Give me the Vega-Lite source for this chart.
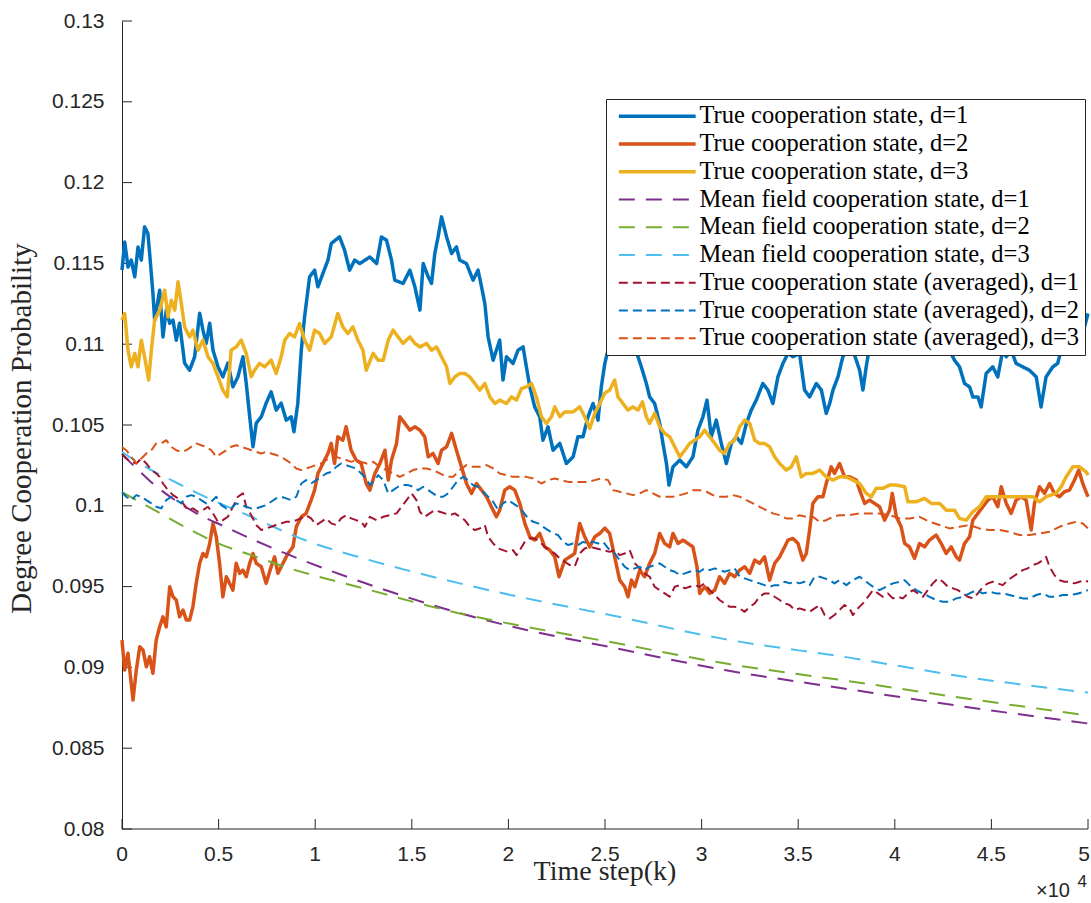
{
  "$schema": "https://vega.github.io/schema/vega-lite/v6.json",
  "width": 966,
  "height": 808,
  "autosize": {"type": "none"},
  "padding": {"left": 122, "top": 21, "right": 3, "bottom": 74},
  "background": "white",
  "config": {
    "view": {"stroke": null},
    "axis": {
      "grid": false,
      "ticks": false,
      "domainColor": "#262626",
      "domainWidth": 1,
      "labelFont": "Liberation Sans",
      "labelFontSize": 21,
      "labelColor": "#262626",
      "titleFont": "Liberation Serif",
      "titleFontWeight": "normal",
      "titleColor": "#262626",
      "zindex": 1
    },
    "legend": {
      "orient": "none",
      "legendX": 484,
      "legendY": 78,
      "padding": 5,
      "rowPadding": 2.75,
      "fillColor": "white",
      "strokeColor": "#262626",
      "labelFont": "Liberation Serif",
      "labelFontSize": 24.5,
      "labelColor": "#000000",
      "labelLimit": 600,
      "labelOffset": 30,
      "symbolOffset": 34,
      "symbolType": "stroke",
      "symbolSize": 5900
    }
  },
  "datasets": {
    "names": [
      {"s": "t1", "label": "True cooperation state, d=1"},
      {"s": "t2", "label": "True cooperation state, d=2"},
      {"s": "t3", "label": "True cooperation state, d=3"},
      {"s": "m1", "label": "Mean field cooperation state, d=1"},
      {"s": "m2", "label": "Mean field cooperation state, d=2"},
      {"s": "m3", "label": "Mean field cooperation state, d=3"},
      {"s": "a1", "label": "True cooperation state (averaged), d=1"},
      {"s": "a2", "label": "True cooperation state (averaged), d=2"},
      {"s": "a3", "label": "True cooperation state (averaged), d=3"}
    ],
    "xticks": [{"k": 0, "t": "0"}, {"k": 5000, "t": "0.5"}, {"k": 10000, "t": "1"}, {"k": 15000, "t": "1.5"}, {"k": 20000, "t": "2"}, {"k": 25000, "t": "2.5"}, {"k": 30000, "t": "3"}, {"k": 35000, "t": "3.5"}, {"k": 40000, "t": "4"}, {"k": 45000, "t": "4.5"}, {"k": 50000, "t": "5"}],
    "yticks": [{"v": 0.08}, {"v": 0.085}, {"v": 0.09}, {"v": 0.095}, {"v": 0.1}, {"v": 0.105}, {"v": 0.11}, {"v": 0.115}, {"v": 0.12}, {"v": 0.125}, {"v": 0.13}],
    "traces": [
{"s":"t1","k":0,"v":0.11458},{"s":"t1","k":140,"v":0.11633},{"s":"t1","k":310,"v":0.11478},{"s":"t1","k":480,"v":0.1152},{"s":"t1","k":660,"v":0.11417},{"s":"t1","k":830,"v":0.11602},{"s":"t1","k":1000,"v":0.1152},{"s":"t1","k":1170,"v":0.11726},{"s":"t1","k":1340,"v":0.11685},{"s":"t1","k":1430,"v":0.11563},{"s":"t1","k":1600,"v":0.11316},{"s":"t1","k":1690,"v":0.11149},{"s":"t1","k":1950,"v":0.11334},{"s":"t1","k":2120,"v":0.11045},{"s":"t1","k":2290,"v":0.11211},{"s":"t1","k":2470,"v":0.1113},{"s":"t1","k":2640,"v":0.11149},{"s":"t1","k":2810,"v":0.11025},{"s":"t1","k":2980,"v":0.1113},{"s":"t1","k":3240,"v":0.10883},{"s":"t1","k":3500,"v":0.10839},{"s":"t1","k":3760,"v":0.10922},{"s":"t1","k":4020,"v":0.11192},{"s":"t1","k":4190,"v":0.11087},{"s":"t1","k":4360,"v":0.11006},{"s":"t1","k":4540,"v":0.1113},{"s":"t1","k":4710,"v":0.10963},{"s":"t1","k":4970,"v":0.1086},{"s":"t1","k":5220,"v":0.10798},{"s":"t1","k":5480,"v":0.10883},{"s":"t1","k":5740,"v":0.10736},{"s":"t1","k":6000,"v":0.10798},{"s":"t1","k":6260,"v":0.10922},{"s":"t1","k":6430,"v":0.10759},{"s":"t1","k":6610,"v":0.10551},{"s":"t1","k":6780,"v":0.10365},{"s":"t1","k":6950,"v":0.10512},{"s":"t1","k":7210,"v":0.10551},{"s":"t1","k":7460,"v":0.10635},{"s":"t1","k":7720,"v":0.10705},{"s":"t1","k":7980,"v":0.10592},{"s":"t1","k":8240,"v":0.10635},{"s":"t1","k":8500,"v":0.1053},{"s":"t1","k":8760,"v":0.10551},{"s":"t1","k":8900,"v":0.10458},{"s":"t1","k":9100,"v":0.10635},{"s":"t1","k":9280,"v":0.10963},{"s":"t1","k":9450,"v":0.11169},{"s":"t1","k":9710,"v":0.11417},{"s":"t1","k":9970,"v":0.11458},{"s":"t1","k":10140,"v":0.11355},{"s":"t1","k":10400,"v":0.11438},{"s":"t1","k":10660,"v":0.1152},{"s":"t1","k":10830,"v":0.11623},{"s":"t1","k":11260,"v":0.11664},{"s":"t1","k":11520,"v":0.11582},{"s":"t1","k":11780,"v":0.11458},{"s":"t1","k":12040,"v":0.1152},{"s":"t1","k":12310,"v":0.11499},{"s":"t1","k":12830,"v":0.1154},{"s":"t1","k":13180,"v":0.11499},{"s":"t1","k":13430,"v":0.11664},{"s":"t1","k":13690,"v":0.11644},{"s":"t1","k":13950,"v":0.1152},{"s":"t1","k":14120,"v":0.11396},{"s":"t1","k":14550,"v":0.11376},{"s":"t1","k":14900,"v":0.11458},{"s":"t1","k":15160,"v":0.11355},{"s":"t1","k":15420,"v":0.11211},{"s":"t1","k":15590,"v":0.11499},{"s":"t1","k":15850,"v":0.11417},{"s":"t1","k":16020,"v":0.11376},{"s":"t1","k":16190,"v":0.11561},{"s":"t1","k":16360,"v":0.11664},{"s":"t1","k":16540,"v":0.11788},{"s":"t1","k":16800,"v":0.11664},{"s":"t1","k":17060,"v":0.11561},{"s":"t1","k":17310,"v":0.11602},{"s":"t1","k":17480,"v":0.1152},{"s":"t1","k":17830,"v":0.11499},{"s":"t1","k":18170,"v":0.11396},{"s":"t1","k":18430,"v":0.11458},{"s":"t1","k":18610,"v":0.11355},{"s":"t1","k":18780,"v":0.11252},{"s":"t1","k":18950,"v":0.11045},{"s":"t1","k":19210,"v":0.10901},{"s":"t1","k":19550,"v":0.11025},{"s":"t1","k":19720,"v":0.10778},{"s":"t1","k":19900,"v":0.10922},{"s":"t1","k":20240,"v":0.10881},{"s":"t1","k":20500,"v":0.10963},{"s":"t1","k":20760,"v":0.10983},{"s":"t1","k":20930,"v":0.1086},{"s":"t1","k":21110,"v":0.10736},{"s":"t1","k":21360,"v":0.10612},{"s":"t1","k":21620,"v":0.10551},{"s":"t1","k":21790,"v":0.10406},{"s":"t1","k":22050,"v":0.10489},{"s":"t1","k":22310,"v":0.10344},{"s":"t1","k":22660,"v":0.10386},{"s":"t1","k":23000,"v":0.10262},{"s":"t1","k":23350,"v":0.10303},{"s":"t1","k":23600,"v":0.10427},{"s":"t1","k":23860,"v":0.10427},{"s":"t1","k":24120,"v":0.10551},{"s":"t1","k":24380,"v":0.10633},{"s":"t1","k":24640,"v":0.1053},{"s":"t1","k":24810,"v":0.10736},{"s":"t1","k":24990,"v":0.10881},{"s":"t1","k":25240,"v":0.11005},{"s":"t1","k":25760,"v":0.11118},{"s":"t1","k":26450,"v":0.11005},{"s":"t1","k":26710,"v":0.10922},{"s":"t1","k":26880,"v":0.1086},{"s":"t1","k":27140,"v":0.10757},{"s":"t1","k":27310,"v":0.10674},{"s":"t1","k":27570,"v":0.10633},{"s":"t1","k":27830,"v":0.1051},{"s":"t1","k":28000,"v":0.10386},{"s":"t1","k":28180,"v":0.10262},{"s":"t1","k":28310,"v":0.10128},{"s":"t1","k":28520,"v":0.10241},{"s":"t1","k":28870,"v":0.10283},{"s":"t1","k":29210,"v":0.10241},{"s":"t1","k":29550,"v":0.10303},{"s":"t1","k":29810,"v":0.10468},{"s":"t1","k":30070,"v":0.10551},{"s":"t1","k":30280,"v":0.10654},{"s":"t1","k":30500,"v":0.10427},{"s":"t1","k":30760,"v":0.1053},{"s":"t1","k":31020,"v":0.10386},{"s":"t1","k":31280,"v":0.10262},{"s":"t1","k":31540,"v":0.10386},{"s":"t1","k":31800,"v":0.10427},{"s":"t1","k":32060,"v":0.10386},{"s":"t1","k":32320,"v":0.1051},{"s":"t1","k":32570,"v":0.10592},{"s":"t1","k":32830,"v":0.10654},{"s":"t1","k":33170,"v":0.10757},{"s":"t1","k":33430,"v":0.10716},{"s":"t1","k":33690,"v":0.10633},{"s":"t1","k":33950,"v":0.10798},{"s":"t1","k":34210,"v":0.10881},{"s":"t1","k":34470,"v":0.10943},{"s":"t1","k":34730,"v":0.10922},{"s":"t1","k":35070,"v":0.10943},{"s":"t1","k":35330,"v":0.10716},{"s":"t1","k":35590,"v":0.10674},{"s":"t1","k":35940,"v":0.10757},{"s":"t1","k":36200,"v":0.10716},{"s":"t1","k":36450,"v":0.10572},{"s":"t1","k":36630,"v":0.10633},{"s":"t1","k":36800,"v":0.10716},{"s":"t1","k":37060,"v":0.10798},{"s":"t1","k":37310,"v":0.10922},{"s":"t1","k":37570,"v":0.10963},{"s":"t1","k":37830,"v":0.10963},{"s":"t1","k":38180,"v":0.10839},{"s":"t1","k":38350,"v":0.10716},{"s":"t1","k":38520,"v":0.1086},{"s":"t1","k":38690,"v":0.10983},{"s":"t1","k":39730,"v":0.11087},{"s":"t1","k":40760,"v":0.11149},{"s":"t1","k":41800,"v":0.11087},{"s":"t1","k":42830,"v":0.10963},{"s":"t1","k":43090,"v":0.10901},{"s":"t1","k":43350,"v":0.1086},{"s":"t1","k":43610,"v":0.10757},{"s":"t1","k":43870,"v":0.10736},{"s":"t1","k":44040,"v":0.10674},{"s":"t1","k":44300,"v":0.10674},{"s":"t1","k":44470,"v":0.10612},{"s":"t1","k":44730,"v":0.10819},{"s":"t1","k":45070,"v":0.1086},{"s":"t1","k":45330,"v":0.10798},{"s":"t1","k":45590,"v":0.10963},{"s":"t1","k":45770,"v":0.10922},{"s":"t1","k":46020,"v":0.10963},{"s":"t1","k":46280,"v":0.10881},{"s":"t1","k":46620,"v":0.1086},{"s":"t1","k":46970,"v":0.10839},{"s":"t1","k":47320,"v":0.10798},{"s":"t1","k":47570,"v":0.10612},{"s":"t1","k":47830,"v":0.10798},{"s":"t1","k":48180,"v":0.1086},{"s":"t1","k":48430,"v":0.10881},{"s":"t1","k":48610,"v":0.10963},{"s":"t1","k":48870,"v":0.11087},{"s":"t1","k":49210,"v":0.11231},{"s":"t1","k":49470,"v":0.11314},{"s":"t1","k":49640,"v":0.11211},{"s":"t1","k":49820,"v":0.11107},{"s":"t1","k":50000,"v":0.1119},
{"s":"t2","k":0,"v":0.09169},{"s":"t2","k":140,"v":0.08984},{"s":"t2","k":310,"v":0.09087},{"s":"t2","k":570,"v":0.08798},{"s":"t2","k":740,"v":0.08984},{"s":"t2","k":920,"v":0.09128},{"s":"t2","k":1090,"v":0.09107},{"s":"t2","k":1260,"v":0.09004},{"s":"t2","k":1430,"v":0.09066},{"s":"t2","k":1600,"v":0.08963},{"s":"t2","k":1770,"v":0.09169},{"s":"t2","k":1950,"v":0.09251},{"s":"t2","k":2120,"v":0.09313},{"s":"t2","k":2290,"v":0.09251},{"s":"t2","k":2470,"v":0.09499},{"s":"t2","k":2640,"v":0.09437},{"s":"t2","k":2810,"v":0.09417},{"s":"t2","k":2980,"v":0.09313},{"s":"t2","k":3160,"v":0.09355},{"s":"t2","k":3330,"v":0.09293},{"s":"t2","k":3500,"v":0.09293},{"s":"t2","k":3670,"v":0.09375},{"s":"t2","k":3840,"v":0.0952},{"s":"t2","k":4020,"v":0.09644},{"s":"t2","k":4190,"v":0.09705},{"s":"t2","k":4360,"v":0.09684},{"s":"t2","k":4540,"v":0.09767},{"s":"t2","k":4710,"v":0.09891},{"s":"t2","k":4880,"v":0.09808},{"s":"t2","k":5050,"v":0.09644},{"s":"t2","k":5220,"v":0.09437},{"s":"t2","k":5400,"v":0.09561},{"s":"t2","k":5570,"v":0.0952},{"s":"t2","k":5740,"v":0.09478},{"s":"t2","k":5910,"v":0.09644},{"s":"t2","k":6090,"v":0.09582},{"s":"t2","k":6260,"v":0.09602},{"s":"t2","k":6430,"v":0.09561},{"s":"t2","k":6610,"v":0.09644},{"s":"t2","k":6780,"v":0.09705},{"s":"t2","k":6950,"v":0.09644},{"s":"t2","k":7210,"v":0.09623},{"s":"t2","k":7460,"v":0.0952},{"s":"t2","k":7720,"v":0.09623},{"s":"t2","k":7900,"v":0.09684},{"s":"t2","k":8070,"v":0.09582},{"s":"t2","k":8330,"v":0.09644},{"s":"t2","k":8590,"v":0.09705},{"s":"t2","k":8850,"v":0.09746},{"s":"t2","k":9020,"v":0.0987},{"s":"t2","k":9280,"v":0.09932},{"s":"t2","k":9530,"v":0.09953},{"s":"t2","k":9790,"v":0.10035},{"s":"t2","k":9970,"v":0.10097},{"s":"t2","k":10140,"v":0.102},{"s":"t2","k":10400,"v":0.10262},{"s":"t2","k":10660,"v":0.10324},{"s":"t2","k":10830,"v":0.10386},{"s":"t2","k":11000,"v":0.10262},{"s":"t2","k":11170,"v":0.10427},{"s":"t2","k":11430,"v":0.10406},{"s":"t2","k":11600,"v":0.10489},{"s":"t2","k":11860,"v":0.10344},{"s":"t2","k":12120,"v":0.10283},{"s":"t2","k":12380,"v":0.10262},{"s":"t2","k":12640,"v":0.10138},{"s":"t2","k":12830,"v":0.10097},{"s":"t2","k":13090,"v":0.102},{"s":"t2","k":13350,"v":0.10262},{"s":"t2","k":13610,"v":0.10344},{"s":"t2","k":13780,"v":0.10159},{"s":"t2","k":13950,"v":0.10283},{"s":"t2","k":14210,"v":0.10386},{"s":"t2","k":14380,"v":0.10551},{"s":"t2","k":14640,"v":0.1051},{"s":"t2","k":14900,"v":0.10468},{"s":"t2","k":15160,"v":0.10489},{"s":"t2","k":15420,"v":0.10468},{"s":"t2","k":15670,"v":0.10427},{"s":"t2","k":15850,"v":0.10303},{"s":"t2","k":16100,"v":0.10324},{"s":"t2","k":16360,"v":0.10262},{"s":"t2","k":16540,"v":0.10344},{"s":"t2","k":16800,"v":0.10365},{"s":"t2","k":17060,"v":0.10448},{"s":"t2","k":17310,"v":0.10344},{"s":"t2","k":17570,"v":0.10241},{"s":"t2","k":17830,"v":0.10138},{"s":"t2","k":18090,"v":0.10077},{"s":"t2","k":18350,"v":0.10138},{"s":"t2","k":18610,"v":0.10097},{"s":"t2","k":18870,"v":0.10056},{"s":"t2","k":19120,"v":0.09994},{"s":"t2","k":19380,"v":0.09932},{"s":"t2","k":19550,"v":0.09973},{"s":"t2","k":19810,"v":0.10097},{"s":"t2","k":20070,"v":0.10118},{"s":"t2","k":20330,"v":0.10097},{"s":"t2","k":20590,"v":0.10015},{"s":"t2","k":20850,"v":0.09891},{"s":"t2","k":21110,"v":0.09808},{"s":"t2","k":21360,"v":0.09788},{"s":"t2","k":21620,"v":0.09829},{"s":"t2","k":21880,"v":0.09746},{"s":"t2","k":22140,"v":0.09726},{"s":"t2","k":22400,"v":0.09684},{"s":"t2","k":22620,"v":0.09561},{"s":"t2","k":22920,"v":0.09664},{"s":"t2","k":23180,"v":0.09684},{"s":"t2","k":23430,"v":0.09705},{"s":"t2","k":23690,"v":0.09891},{"s":"t2","k":23950,"v":0.09808},{"s":"t2","k":24210,"v":0.09746},{"s":"t2","k":24470,"v":0.09808},{"s":"t2","k":24730,"v":0.09829},{"s":"t2","k":24990,"v":0.09862},{"s":"t2","k":25240,"v":0.09829},{"s":"t2","k":25500,"v":0.09684},{"s":"t2","k":25760,"v":0.0954},{"s":"t2","k":26020,"v":0.09499},{"s":"t2","k":26190,"v":0.09437},{"s":"t2","k":26370,"v":0.0954},{"s":"t2","k":26540,"v":0.09499},{"s":"t2","k":26800,"v":0.09602},{"s":"t2","k":27050,"v":0.09561},{"s":"t2","k":27310,"v":0.09644},{"s":"t2","k":27570,"v":0.09705},{"s":"t2","k":27830,"v":0.09829},{"s":"t2","k":28090,"v":0.09767},{"s":"t2","k":28350,"v":0.09746},{"s":"t2","k":28520,"v":0.09829},{"s":"t2","k":28780,"v":0.09767},{"s":"t2","k":29040,"v":0.09788},{"s":"t2","k":29290,"v":0.09767},{"s":"t2","k":29550,"v":0.09746},{"s":"t2","k":29760,"v":0.09623},{"s":"t2","k":29900,"v":0.09458},{"s":"t2","k":30160,"v":0.09499},{"s":"t2","k":30420,"v":0.09458},{"s":"t2","k":30680,"v":0.09478},{"s":"t2","k":30930,"v":0.09561},{"s":"t2","k":31190,"v":0.0952},{"s":"t2","k":31450,"v":0.09582},{"s":"t2","k":31710,"v":0.09561},{"s":"t2","k":31970,"v":0.09602},{"s":"t2","k":32230,"v":0.09623},{"s":"t2","k":32490,"v":0.09582},{"s":"t2","k":32750,"v":0.09664},{"s":"t2","k":33000,"v":0.09644},{"s":"t2","k":33260,"v":0.09684},{"s":"t2","k":33520,"v":0.0954},{"s":"t2","k":33780,"v":0.09644},{"s":"t2","k":34040,"v":0.09684},{"s":"t2","k":34300,"v":0.09746},{"s":"t2","k":34470,"v":0.09788},{"s":"t2","k":34730,"v":0.09798},{"s":"t2","k":34990,"v":0.09767},{"s":"t2","k":35240,"v":0.09664},{"s":"t2","k":35420,"v":0.09705},{"s":"t2","k":35590,"v":0.0985},{"s":"t2","k":35760,"v":0.10015},{"s":"t2","k":36020,"v":0.10056},{"s":"t2","k":36280,"v":0.10056},{"s":"t2","k":36450,"v":0.10138},{"s":"t2","k":36710,"v":0.10241},{"s":"t2","k":36880,"v":0.102},{"s":"t2","k":37140,"v":0.10262},{"s":"t2","k":37400,"v":0.10179},{"s":"t2","k":37660,"v":0.10179},{"s":"t2","k":38010,"v":0.10159},{"s":"t2","k":38180,"v":0.10097},{"s":"t2","k":38440,"v":0.10015},{"s":"t2","k":38690,"v":0.10035},{"s":"t2","k":38950,"v":0.10015},{"s":"t2","k":39210,"v":0.09994},{"s":"t2","k":39470,"v":0.09911},{"s":"t2","k":39730,"v":0.09973},{"s":"t2","k":39870,"v":0.10077},{"s":"t2","k":40080,"v":0.09932},{"s":"t2","k":40330,"v":0.0987},{"s":"t2","k":40510,"v":0.09767},{"s":"t2","k":40760,"v":0.09746},{"s":"t2","k":41020,"v":0.09675},{"s":"t2","k":41280,"v":0.09767},{"s":"t2","k":41540,"v":0.09746},{"s":"t2","k":41800,"v":0.09788},{"s":"t2","k":42140,"v":0.09819},{"s":"t2","k":42400,"v":0.09767},{"s":"t2","k":42660,"v":0.09705},{"s":"t2","k":42920,"v":0.09746},{"s":"t2","k":43180,"v":0.09684},{"s":"t2","k":43350,"v":0.09664},{"s":"t2","k":43610,"v":0.09767},{"s":"t2","k":43870,"v":0.09808},{"s":"t2","k":44040,"v":0.09911},{"s":"t2","k":44300,"v":0.09953},{"s":"t2","k":44560,"v":0.09994},{"s":"t2","k":44820,"v":0.10035},{"s":"t2","k":45070,"v":0.10056},{"s":"t2","k":45330,"v":0.09994},{"s":"t2","k":45510,"v":0.10118},{"s":"t2","k":45770,"v":0.10015},{"s":"t2","k":46020,"v":0.09953},{"s":"t2","k":46280,"v":0.10035},{"s":"t2","k":46540,"v":0.10056},{"s":"t2","k":46800,"v":0.10035},{"s":"t2","k":47060,"v":0.0985},{"s":"t2","k":47230,"v":0.10015},{"s":"t2","k":47490,"v":0.10118},{"s":"t2","k":47750,"v":0.10077},{"s":"t2","k":48010,"v":0.10138},{"s":"t2","k":48260,"v":0.10077},{"s":"t2","k":48520,"v":0.10056},{"s":"t2","k":48780,"v":0.10087},{"s":"t2","k":49040,"v":0.10097},{"s":"t2","k":49300,"v":0.10159},{"s":"t2","k":49520,"v":0.10221},{"s":"t2","k":49730,"v":0.10138},{"s":"t2","k":50000,"v":0.10056},
{"s":"t3","k":0,"v":0.11149},{"s":"t3","k":140,"v":0.1119},{"s":"t3","k":310,"v":0.10963},{"s":"t3","k":480,"v":0.1086},{"s":"t3","k":660,"v":0.10943},{"s":"t3","k":830,"v":0.1086},{"s":"t3","k":1000,"v":0.11025},{"s":"t3","k":1170,"v":0.10922},{"s":"t3","k":1380,"v":0.10778},{"s":"t3","k":1520,"v":0.10963},{"s":"t3","k":1690,"v":0.11149},{"s":"t3","k":1950,"v":0.11211},{"s":"t3","k":2210,"v":0.11334},{"s":"t3","k":2380,"v":0.11169},{"s":"t3","k":2550,"v":0.11272},{"s":"t3","k":2730,"v":0.11211},{"s":"t3","k":2900,"v":0.11386},{"s":"t3","k":3070,"v":0.11252},{"s":"t3","k":3240,"v":0.11107},{"s":"t3","k":3500,"v":0.11045},{"s":"t3","k":3670,"v":0.11087},{"s":"t3","k":3930,"v":0.10963},{"s":"t3","k":4190,"v":0.11025},{"s":"t3","k":4450,"v":0.10922},{"s":"t3","k":4710,"v":0.10881},{"s":"t3","k":4970,"v":0.10798},{"s":"t3","k":5220,"v":0.10716},{"s":"t3","k":5450,"v":0.10674},{"s":"t3","k":5650,"v":0.10963},{"s":"t3","k":5910,"v":0.10983},{"s":"t3","k":6170,"v":0.11025},{"s":"t3","k":6430,"v":0.10943},{"s":"t3","k":6690,"v":0.10798},{"s":"t3","k":6860,"v":0.10839},{"s":"t3","k":7120,"v":0.10881},{"s":"t3","k":7380,"v":0.1086},{"s":"t3","k":7720,"v":0.10901},{"s":"t3","k":7980,"v":0.10819},{"s":"t3","k":8240,"v":0.10922},{"s":"t3","k":8420,"v":0.11025},{"s":"t3","k":8680,"v":0.11066},{"s":"t3","k":8930,"v":0.11045},{"s":"t3","k":9190,"v":0.11128},{"s":"t3","k":9450,"v":0.11025},{"s":"t3","k":9710,"v":0.10963},{"s":"t3","k":9970,"v":0.11087},{"s":"t3","k":10230,"v":0.11066},{"s":"t3","k":10490,"v":0.11005},{"s":"t3","k":10830,"v":0.11045},{"s":"t3","k":11170,"v":0.1119},{"s":"t3","k":11430,"v":0.11107},{"s":"t3","k":11690,"v":0.11066},{"s":"t3","k":11950,"v":0.11107},{"s":"t3","k":12210,"v":0.11025},{"s":"t3","k":12470,"v":0.10963},{"s":"t3","k":12640,"v":0.10839},{"s":"t3","k":13000,"v":0.10943},{"s":"t3","k":13260,"v":0.10901},{"s":"t3","k":13520,"v":0.10901},{"s":"t3","k":13780,"v":0.11025},{"s":"t3","k":14030,"v":0.11087},{"s":"t3","k":14290,"v":0.11045},{"s":"t3","k":14550,"v":0.11005},{"s":"t3","k":14900,"v":0.11045},{"s":"t3","k":15160,"v":0.11005},{"s":"t3","k":15420,"v":0.10983},{"s":"t3","k":15760,"v":0.11005},{"s":"t3","k":16020,"v":0.10963},{"s":"t3","k":16280,"v":0.10983},{"s":"t3","k":16540,"v":0.10922},{"s":"t3","k":16800,"v":0.1086},{"s":"t3","k":16970,"v":0.10757},{"s":"t3","k":17230,"v":0.10798},{"s":"t3","k":17480,"v":0.10819},{"s":"t3","k":17740,"v":0.10819},{"s":"t3","k":18000,"v":0.10798},{"s":"t3","k":18260,"v":0.10757},{"s":"t3","k":18520,"v":0.10716},{"s":"t3","k":18780,"v":0.10757},{"s":"t3","k":19040,"v":0.10674},{"s":"t3","k":19300,"v":0.10633},{"s":"t3","k":19550,"v":0.10654},{"s":"t3","k":19900,"v":0.10633},{"s":"t3","k":20160,"v":0.10674},{"s":"t3","k":20420,"v":0.10654},{"s":"t3","k":20680,"v":0.10726},{"s":"t3","k":20930,"v":0.10736},{"s":"t3","k":21190,"v":0.10757},{"s":"t3","k":21450,"v":0.10674},{"s":"t3","k":21710,"v":0.10551},{"s":"t3","k":21970,"v":0.1051},{"s":"t3","k":22230,"v":0.10551},{"s":"t3","k":22400,"v":0.10612},{"s":"t3","k":22660,"v":0.10551},{"s":"t3","k":22920,"v":0.10581},{"s":"t3","k":23350,"v":0.10581},{"s":"t3","k":23690,"v":0.10612},{"s":"t3","k":23950,"v":0.10551},{"s":"t3","k":24210,"v":0.10479},{"s":"t3","k":24470,"v":0.10572},{"s":"t3","k":24730,"v":0.10633},{"s":"t3","k":24990,"v":0.10697},{"s":"t3","k":25240,"v":0.10716},{"s":"t3","k":25500,"v":0.10778},{"s":"t3","k":25670,"v":0.10674},{"s":"t3","k":25930,"v":0.10633},{"s":"t3","k":26190,"v":0.10592},{"s":"t3","k":26450,"v":0.10612},{"s":"t3","k":26710,"v":0.10592},{"s":"t3","k":26940,"v":0.10643},{"s":"t3","k":27140,"v":0.10551},{"s":"t3","k":27310,"v":0.1051},{"s":"t3","k":27570,"v":0.10572},{"s":"t3","k":27830,"v":0.10489},{"s":"t3","k":28090,"v":0.10448},{"s":"t3","k":28350,"v":0.10427},{"s":"t3","k":28610,"v":0.10365},{"s":"t3","k":28870,"v":0.10303},{"s":"t3","k":29130,"v":0.10344},{"s":"t3","k":29380,"v":0.10386},{"s":"t3","k":29640,"v":0.10406},{"s":"t3","k":29900,"v":0.10427},{"s":"t3","k":30160,"v":0.10468},{"s":"t3","k":30420,"v":0.10427},{"s":"t3","k":30680,"v":0.10386},{"s":"t3","k":30930,"v":0.10344},{"s":"t3","k":31190,"v":0.10324},{"s":"t3","k":31450,"v":0.10386},{"s":"t3","k":31710,"v":0.10406},{"s":"t3","k":31970,"v":0.10489},{"s":"t3","k":32230,"v":0.1053},{"s":"t3","k":32490,"v":0.1051},{"s":"t3","k":32750,"v":0.10406},{"s":"t3","k":33000,"v":0.10386},{"s":"t3","k":33260,"v":0.10386},{"s":"t3","k":33520,"v":0.10365},{"s":"t3","k":33780,"v":0.10303},{"s":"t3","k":34040,"v":0.10262},{"s":"t3","k":34380,"v":0.10221},{"s":"t3","k":34640,"v":0.10241},{"s":"t3","k":34900,"v":0.10303},{"s":"t3","k":35160,"v":0.10179},{"s":"t3","k":35420,"v":0.102},{"s":"t3","k":35760,"v":0.102},{"s":"t3","k":36110,"v":0.10221},{"s":"t3","k":36450,"v":0.10179},{"s":"t3","k":36800,"v":0.10159},{"s":"t3","k":37140,"v":0.10179},{"s":"t3","k":37490,"v":0.10179},{"s":"t3","k":37830,"v":0.10159},{"s":"t3","k":38180,"v":0.10138},{"s":"t3","k":38520,"v":0.10077},{"s":"t3","k":38780,"v":0.10056},{"s":"t3","k":39040,"v":0.10108},{"s":"t3","k":39380,"v":0.10108},{"s":"t3","k":39730,"v":0.10128},{"s":"t3","k":40080,"v":0.10128},{"s":"t3","k":40510,"v":0.10118},{"s":"t3","k":40680,"v":0.10025},{"s":"t3","k":41110,"v":0.10025},{"s":"t3","k":41540,"v":0.10046},{"s":"t3","k":41890,"v":0.10015},{"s":"t3","k":42320,"v":0.10015},{"s":"t3","k":42660,"v":0.09973},{"s":"t3","k":43090,"v":0.09973},{"s":"t3","k":43350,"v":0.09922},{"s":"t3","k":43700,"v":0.09911},{"s":"t3","k":44040,"v":0.09963},{"s":"t3","k":44380,"v":0.09994},{"s":"t3","k":44730,"v":0.10056},{"s":"t3","k":45070,"v":0.10056},{"s":"t3","k":45590,"v":0.10056},{"s":"t3","k":46110,"v":0.10056},{"s":"t3","k":46620,"v":0.10056},{"s":"t3","k":47140,"v":0.10056},{"s":"t3","k":47490,"v":0.10025},{"s":"t3","k":47830,"v":0.10056},{"s":"t3","k":48350,"v":0.10077},{"s":"t3","k":48610,"v":0.10118},{"s":"t3","k":48870,"v":0.10179},{"s":"t3","k":49210,"v":0.10241},{"s":"t3","k":49560,"v":0.10241},{"s":"t3","k":49900,"v":0.1021},{"s":"t3","k":50000,"v":0.1019},
{"s":"m1","k":0,"v":0.1032},{"s":"m1","k":670,"v":0.10241},{"s":"m1","k":1500,"v":0.10148},{"s":"m1","k":3570,"v":0.09973},{"s":"m1","k":5330,"v":0.0987},{"s":"m1","k":8430,"v":0.09707},{"s":"m1","k":12570,"v":0.09522},{"s":"m1","k":17490,"v":0.09336},{"s":"m1","k":20950,"v":0.09231},{"s":"m1","k":25140,"v":0.09129},{"s":"m1","k":31190,"v":0.08984},{"s":"m1","k":37560,"v":0.08866},{"s":"m1","k":43610,"v":0.08757},{"s":"m1","k":50000,"v":0.08653},
{"s":"m2","k":0,"v":0.10085},{"s":"m2","k":1520,"v":0.09984},{"s":"m2","k":3240,"v":0.0987},{"s":"m2","k":4970,"v":0.09767},{"s":"m2","k":6690,"v":0.09695},{"s":"m2","k":8420,"v":0.09623},{"s":"m2","k":12620,"v":0.09485},{"s":"m2","k":17480,"v":0.09334},{"s":"m2","k":20930,"v":0.09251},{"s":"m2","k":25140,"v":0.0916},{"s":"m2","k":31190,"v":0.09025},{"s":"m2","k":37560,"v":0.08916},{"s":"m2","k":43610,"v":0.08809},{"s":"m2","k":50000,"v":0.08702},
{"s":"m3","k":0,"v":0.10332},{"s":"m3","k":1520,"v":0.10221},{"s":"m3","k":2550,"v":0.10159},{"s":"m3","k":3930,"v":0.10077},{"s":"m3","k":6690,"v":0.09932},{"s":"m3","k":9450,"v":0.09788},{"s":"m3","k":12640,"v":0.0967},{"s":"m3","k":17480,"v":0.0952},{"s":"m3","k":20930,"v":0.09427},{"s":"m3","k":25140,"v":0.09327},{"s":"m3","k":31190,"v":0.09175},{"s":"m3","k":37560,"v":0.09062},{"s":"m3","k":43610,"v":0.08942},{"s":"m3","k":50000,"v":0.08844},
{"s":"a1","k":0,"v":0.1032},{"s":"a1","k":220,"v":0.10293},{"s":"a1","k":480,"v":0.10272},{"s":"a1","k":740,"v":0.10262},{"s":"a1","k":1000,"v":0.10293},{"s":"a1","k":1260,"v":0.10262},{"s":"a1","k":1520,"v":0.10221},{"s":"a1","k":1770,"v":0.102},{"s":"a1","k":1950,"v":0.10179},{"s":"a1","k":2120,"v":0.10138},{"s":"a1","k":2380,"v":0.10097},{"s":"a1","k":2640,"v":0.10066},{"s":"a1","k":2900,"v":0.10046},{"s":"a1","k":3160,"v":0.10015},{"s":"a1","k":3410,"v":0.09973},{"s":"a1","k":3670,"v":0.09984},{"s":"a1","k":3930,"v":0.09963},{"s":"a1","k":4190,"v":0.09973},{"s":"a1","k":4450,"v":0.09994},{"s":"a1","k":4710,"v":0.09953},{"s":"a1","k":4970,"v":0.09901},{"s":"a1","k":5220,"v":0.09911},{"s":"a1","k":5480,"v":0.09932},{"s":"a1","k":5740,"v":0.09994},{"s":"a1","k":6000,"v":0.10056},{"s":"a1","k":6260,"v":0.10077},{"s":"a1","k":6430,"v":0.09994},{"s":"a1","k":6690,"v":0.09942},{"s":"a1","k":6950,"v":0.09881},{"s":"a1","k":7210,"v":0.0985},{"s":"a1","k":7460,"v":0.0986},{"s":"a1","k":7720,"v":0.0987},{"s":"a1","k":7980,"v":0.09881},{"s":"a1","k":8240,"v":0.09891},{"s":"a1","k":8500,"v":0.09901},{"s":"a1","k":8760,"v":0.09901},{"s":"a1","k":9020,"v":0.09911},{"s":"a1","k":9280,"v":0.09922},{"s":"a1","k":9530,"v":0.09942},{"s":"a1","k":9790,"v":0.09922},{"s":"a1","k":10050,"v":0.09881},{"s":"a1","k":10310,"v":0.09901},{"s":"a1","k":10570,"v":0.09922},{"s":"a1","k":10830,"v":0.09891},{"s":"a1","k":11090,"v":0.09881},{"s":"a1","k":11340,"v":0.09922},{"s":"a1","k":11600,"v":0.09942},{"s":"a1","k":11860,"v":0.09922},{"s":"a1","k":12120,"v":0.09911},{"s":"a1","k":12380,"v":0.09901},{"s":"a1","k":12570,"v":0.0987},{"s":"a1","k":12830,"v":0.09932},{"s":"a1","k":13180,"v":0.09911},{"s":"a1","k":13520,"v":0.09932},{"s":"a1","k":13860,"v":0.09942},{"s":"a1","k":14210,"v":0.09953},{"s":"a1","k":14470,"v":0.09994},{"s":"a1","k":14730,"v":0.10035},{"s":"a1","k":14990,"v":0.10077},{"s":"a1","k":15240,"v":0.10035},{"s":"a1","k":15420,"v":0.09963},{"s":"a1","k":15670,"v":0.09932},{"s":"a1","k":15930,"v":0.09953},{"s":"a1","k":16190,"v":0.09973},{"s":"a1","k":16450,"v":0.09963},{"s":"a1","k":16710,"v":0.09953},{"s":"a1","k":16970,"v":0.09942},{"s":"a1","k":17230,"v":0.09953},{"s":"a1","k":17480,"v":0.09932},{"s":"a1","k":17740,"v":0.09911},{"s":"a1","k":18000,"v":0.0987},{"s":"a1","k":18260,"v":0.0985},{"s":"a1","k":18520,"v":0.0986},{"s":"a1","k":18780,"v":0.09881},{"s":"a1","k":18950,"v":0.09808},{"s":"a1","k":19210,"v":0.09767},{"s":"a1","k":19470,"v":0.09736},{"s":"a1","k":19720,"v":0.09726},{"s":"a1","k":19980,"v":0.09715},{"s":"a1","k":20240,"v":0.09726},{"s":"a1","k":20420,"v":0.09695},{"s":"a1","k":20590,"v":0.09726},{"s":"a1","k":20850,"v":0.09777},{"s":"a1","k":21110,"v":0.09798},{"s":"a1","k":21360,"v":0.09798},{"s":"a1","k":21620,"v":0.09777},{"s":"a1","k":21880,"v":0.09746},{"s":"a1","k":22140,"v":0.09726},{"s":"a1","k":22400,"v":0.09705},{"s":"a1","k":22660,"v":0.09675},{"s":"a1","k":22920,"v":0.09654},{"s":"a1","k":23180,"v":0.09633},{"s":"a1","k":23430,"v":0.09623},{"s":"a1","k":23690,"v":0.09705},{"s":"a1","k":23950,"v":0.09736},{"s":"a1","k":24210,"v":0.09746},{"s":"a1","k":24560,"v":0.09736},{"s":"a1","k":24900,"v":0.09726},{"s":"a1","k":25240,"v":0.09715},{"s":"a1","k":25500,"v":0.09726},{"s":"a1","k":25760,"v":0.09695},{"s":"a1","k":26020,"v":0.09705},{"s":"a1","k":26280,"v":0.09726},{"s":"a1","k":26540,"v":0.09644},{"s":"a1","k":26800,"v":0.09613},{"s":"a1","k":27050,"v":0.09582},{"s":"a1","k":27310,"v":0.09561},{"s":"a1","k":27570,"v":0.09499},{"s":"a1","k":27830,"v":0.09478},{"s":"a1","k":28090,"v":0.09458},{"s":"a1","k":28350,"v":0.09437},{"s":"a1","k":28610,"v":0.09499},{"s":"a1","k":28870,"v":0.09509},{"s":"a1","k":29130,"v":0.09489},{"s":"a1","k":29380,"v":0.09499},{"s":"a1","k":29640,"v":0.09509},{"s":"a1","k":29900,"v":0.09499},{"s":"a1","k":30160,"v":0.0952},{"s":"a1","k":30420,"v":0.09478},{"s":"a1","k":30680,"v":0.09448},{"s":"a1","k":30930,"v":0.09417},{"s":"a1","k":31190,"v":0.09396},{"s":"a1","k":31450,"v":0.09375},{"s":"a1","k":31710,"v":0.09375},{"s":"a1","k":31970,"v":0.09365},{"s":"a1","k":32230,"v":0.09344},{"s":"a1","k":32490,"v":0.09375},{"s":"a1","k":32750,"v":0.09396},{"s":"a1","k":33000,"v":0.09437},{"s":"a1","k":33260,"v":0.09458},{"s":"a1","k":33520,"v":0.09458},{"s":"a1","k":33780,"v":0.09437},{"s":"a1","k":34040,"v":0.09417},{"s":"a1","k":34300,"v":0.09396},{"s":"a1","k":34560,"v":0.09386},{"s":"a1","k":34820,"v":0.09355},{"s":"a1","k":35070,"v":0.09365},{"s":"a1","k":35330,"v":0.09355},{"s":"a1","k":35590,"v":0.09344},{"s":"a1","k":35850,"v":0.09365},{"s":"a1","k":36110,"v":0.09386},{"s":"a1","k":36370,"v":0.09324},{"s":"a1","k":36630,"v":0.09303},{"s":"a1","k":36880,"v":0.09324},{"s":"a1","k":37140,"v":0.09355},{"s":"a1","k":37400,"v":0.09386},{"s":"a1","k":37660,"v":0.09365},{"s":"a1","k":37830,"v":0.09324},{"s":"a1","k":38090,"v":0.09365},{"s":"a1","k":38350,"v":0.09396},{"s":"a1","k":38610,"v":0.09437},{"s":"a1","k":38870,"v":0.09478},{"s":"a1","k":39130,"v":0.09458},{"s":"a1","k":39380,"v":0.09437},{"s":"a1","k":39640,"v":0.09458},{"s":"a1","k":39900,"v":0.09427},{"s":"a1","k":40160,"v":0.09437},{"s":"a1","k":40420,"v":0.09427},{"s":"a1","k":40680,"v":0.09458},{"s":"a1","k":40940,"v":0.09478},{"s":"a1","k":41200,"v":0.09458},{"s":"a1","k":41450,"v":0.09437},{"s":"a1","k":41710,"v":0.09478},{"s":"a1","k":41970,"v":0.0952},{"s":"a1","k":42230,"v":0.09551},{"s":"a1","k":42490,"v":0.0953},{"s":"a1","k":42750,"v":0.09499},{"s":"a1","k":43010,"v":0.09489},{"s":"a1","k":43270,"v":0.09478},{"s":"a1","k":43520,"v":0.09458},{"s":"a1","k":43780,"v":0.09437},{"s":"a1","k":44040,"v":0.09427},{"s":"a1","k":44300,"v":0.09458},{"s":"a1","k":44560,"v":0.09499},{"s":"a1","k":44820,"v":0.0952},{"s":"a1","k":45070,"v":0.0953},{"s":"a1","k":45330,"v":0.0952},{"s":"a1","k":45590,"v":0.09509},{"s":"a1","k":45850,"v":0.0954},{"s":"a1","k":46110,"v":0.09561},{"s":"a1","k":46370,"v":0.09582},{"s":"a1","k":46620,"v":0.09602},{"s":"a1","k":46880,"v":0.09613},{"s":"a1","k":47140,"v":0.09633},{"s":"a1","k":47400,"v":0.09644},{"s":"a1","k":47660,"v":0.09664},{"s":"a1","k":47830,"v":0.09684},{"s":"a1","k":48010,"v":0.09623},{"s":"a1","k":48260,"v":0.09571},{"s":"a1","k":48520,"v":0.0954},{"s":"a1","k":48780,"v":0.0953},{"s":"a1","k":49040,"v":0.0953},{"s":"a1","k":49300,"v":0.0952},{"s":"a1","k":49560,"v":0.0953},{"s":"a1","k":49820,"v":0.0954},{"s":"a1","k":50000,"v":0.0953},
{"s":"a2","k":0,"v":0.10085},{"s":"a2","k":220,"v":0.10056},{"s":"a2","k":480,"v":0.10035},{"s":"a2","k":740,"v":0.10066},{"s":"a2","k":1000,"v":0.10056},{"s":"a2","k":1260,"v":0.10035},{"s":"a2","k":1520,"v":0.10015},{"s":"a2","k":1770,"v":0.09994},{"s":"a2","k":2030,"v":0.09984},{"s":"a2","k":2290,"v":0.10035},{"s":"a2","k":2550,"v":0.10056},{"s":"a2","k":2810,"v":0.10035},{"s":"a2","k":3070,"v":0.10015},{"s":"a2","k":3330,"v":0.10056},{"s":"a2","k":3580,"v":0.10066},{"s":"a2","k":3840,"v":0.10056},{"s":"a2","k":4100,"v":0.10035},{"s":"a2","k":4360,"v":0.10015},{"s":"a2","k":4620,"v":0.10025},{"s":"a2","k":4880,"v":0.10056},{"s":"a2","k":5140,"v":0.10004},{"s":"a2","k":5400,"v":0.09984},{"s":"a2","k":5650,"v":0.09984},{"s":"a2","k":5910,"v":0.10015},{"s":"a2","k":6170,"v":0.10004},{"s":"a2","k":6430,"v":0.09994},{"s":"a2","k":6690,"v":0.09984},{"s":"a2","k":6950,"v":0.09984},{"s":"a2","k":7210,"v":0.09994},{"s":"a2","k":7460,"v":0.10004},{"s":"a2","k":7720,"v":0.10025},{"s":"a2","k":7980,"v":0.10046},{"s":"a2","k":8240,"v":0.10056},{"s":"a2","k":8500,"v":0.10046},{"s":"a2","k":8760,"v":0.10035},{"s":"a2","k":9020,"v":0.10056},{"s":"a2","k":9280,"v":0.10138},{"s":"a2","k":9530,"v":0.10159},{"s":"a2","k":9790,"v":0.10138},{"s":"a2","k":10050,"v":0.10159},{"s":"a2","k":10310,"v":0.10179},{"s":"a2","k":10570,"v":0.102},{"s":"a2","k":10830,"v":0.1021},{"s":"a2","k":11090,"v":0.10241},{"s":"a2","k":11340,"v":0.10262},{"s":"a2","k":11600,"v":0.10252},{"s":"a2","k":11860,"v":0.10241},{"s":"a2","k":12120,"v":0.10231},{"s":"a2","k":12380,"v":0.102},{"s":"a2","k":12640,"v":0.10171},{"s":"a2","k":12830,"v":0.10128},{"s":"a2","k":13090,"v":0.10159},{"s":"a2","k":13260,"v":0.1019},{"s":"a2","k":13520,"v":0.10159},{"s":"a2","k":13780,"v":0.10077},{"s":"a2","k":14030,"v":0.10097},{"s":"a2","k":14290,"v":0.10118},{"s":"a2","k":14550,"v":0.10128},{"s":"a2","k":14810,"v":0.10128},{"s":"a2","k":15070,"v":0.10118},{"s":"a2","k":15330,"v":0.10097},{"s":"a2","k":15590,"v":0.10118},{"s":"a2","k":15850,"v":0.10097},{"s":"a2","k":16100,"v":0.10077},{"s":"a2","k":16360,"v":0.10056},{"s":"a2","k":16620,"v":0.10056},{"s":"a2","k":16880,"v":0.10077},{"s":"a2","k":17140,"v":0.10118},{"s":"a2","k":17400,"v":0.10159},{"s":"a2","k":17660,"v":0.10179},{"s":"a2","k":17910,"v":0.10159},{"s":"a2","k":18170,"v":0.10128},{"s":"a2","k":18430,"v":0.10118},{"s":"a2","k":18690,"v":0.10087},{"s":"a2","k":18950,"v":0.10056},{"s":"a2","k":19210,"v":0.10025},{"s":"a2","k":19470,"v":0.09973},{"s":"a2","k":19720,"v":0.10015},{"s":"a2","k":19980,"v":0.10035},{"s":"a2","k":20240,"v":0.10015},{"s":"a2","k":20500,"v":0.09994},{"s":"a2","k":20760,"v":0.09963},{"s":"a2","k":21020,"v":0.09922},{"s":"a2","k":21280,"v":0.09901},{"s":"a2","k":21540,"v":0.09891},{"s":"a2","k":21790,"v":0.0987},{"s":"a2","k":22050,"v":0.0985},{"s":"a2","k":22310,"v":0.09829},{"s":"a2","k":22570,"v":0.09819},{"s":"a2","k":22830,"v":0.09777},{"s":"a2","k":23090,"v":0.09757},{"s":"a2","k":23350,"v":0.09767},{"s":"a2","k":23600,"v":0.09757},{"s":"a2","k":23860,"v":0.09777},{"s":"a2","k":24120,"v":0.09767},{"s":"a2","k":24380,"v":0.09777},{"s":"a2","k":24640,"v":0.09767},{"s":"a2","k":24900,"v":0.09777},{"s":"a2","k":25240,"v":0.09726},{"s":"a2","k":25500,"v":0.09705},{"s":"a2","k":25760,"v":0.09664},{"s":"a2","k":26020,"v":0.09623},{"s":"a2","k":26280,"v":0.09602},{"s":"a2","k":26540,"v":0.09613},{"s":"a2","k":26800,"v":0.09623},{"s":"a2","k":27050,"v":0.09602},{"s":"a2","k":27310,"v":0.09623},{"s":"a2","k":27570,"v":0.09633},{"s":"a2","k":27830,"v":0.09644},{"s":"a2","k":28090,"v":0.09623},{"s":"a2","k":28350,"v":0.09602},{"s":"a2","k":28610,"v":0.09592},{"s":"a2","k":28870,"v":0.09571},{"s":"a2","k":29130,"v":0.09582},{"s":"a2","k":29380,"v":0.09592},{"s":"a2","k":29640,"v":0.09602},{"s":"a2","k":29900,"v":0.09592},{"s":"a2","k":30160,"v":0.09613},{"s":"a2","k":30420,"v":0.09602},{"s":"a2","k":30680,"v":0.09613},{"s":"a2","k":30930,"v":0.09602},{"s":"a2","k":31190,"v":0.09592},{"s":"a2","k":31450,"v":0.09602},{"s":"a2","k":31710,"v":0.09613},{"s":"a2","k":31970,"v":0.09561},{"s":"a2","k":32230,"v":0.09551},{"s":"a2","k":32490,"v":0.0954},{"s":"a2","k":32750,"v":0.0953},{"s":"a2","k":33000,"v":0.0952},{"s":"a2","k":33260,"v":0.09509},{"s":"a2","k":33520,"v":0.09499},{"s":"a2","k":33780,"v":0.09509},{"s":"a2","k":34040,"v":0.09509},{"s":"a2","k":34300,"v":0.0953},{"s":"a2","k":34560,"v":0.0952},{"s":"a2","k":34820,"v":0.0953},{"s":"a2","k":35070,"v":0.0952},{"s":"a2","k":35330,"v":0.0953},{"s":"a2","k":35590,"v":0.09509},{"s":"a2","k":35850,"v":0.09561},{"s":"a2","k":36110,"v":0.09561},{"s":"a2","k":36370,"v":0.09551},{"s":"a2","k":36630,"v":0.0954},{"s":"a2","k":36880,"v":0.0952},{"s":"a2","k":37140,"v":0.0954},{"s":"a2","k":37490,"v":0.09509},{"s":"a2","k":37830,"v":0.0954},{"s":"a2","k":38180,"v":0.09561},{"s":"a2","k":38520,"v":0.0953},{"s":"a2","k":38870,"v":0.09499},{"s":"a2","k":39210,"v":0.09478},{"s":"a2","k":39560,"v":0.09499},{"s":"a2","k":39900,"v":0.0952},{"s":"a2","k":40250,"v":0.0953},{"s":"a2","k":40510,"v":0.0954},{"s":"a2","k":40760,"v":0.09509},{"s":"a2","k":41110,"v":0.09478},{"s":"a2","k":41450,"v":0.09458},{"s":"a2","k":41800,"v":0.09437},{"s":"a2","k":42140,"v":0.09417},{"s":"a2","k":42490,"v":0.09406},{"s":"a2","k":42830,"v":0.09406},{"s":"a2","k":43180,"v":0.09427},{"s":"a2","k":43520,"v":0.09437},{"s":"a2","k":43870,"v":0.09458},{"s":"a2","k":44210,"v":0.09478},{"s":"a2","k":44560,"v":0.09458},{"s":"a2","k":44900,"v":0.09468},{"s":"a2","k":45250,"v":0.09458},{"s":"a2","k":45590,"v":0.09458},{"s":"a2","k":45940,"v":0.09448},{"s":"a2","k":46280,"v":0.09437},{"s":"a2","k":46620,"v":0.09427},{"s":"a2","k":46970,"v":0.09427},{"s":"a2","k":47320,"v":0.09448},{"s":"a2","k":47660,"v":0.09458},{"s":"a2","k":48010,"v":0.09437},{"s":"a2","k":48350,"v":0.09437},{"s":"a2","k":48700,"v":0.09448},{"s":"a2","k":49040,"v":0.09448},{"s":"a2","k":49390,"v":0.09454},{"s":"a2","k":49730,"v":0.09466},{"s":"a2","k":50000,"v":0.09478},
{"s":"a3","k":0,"v":0.10363},{"s":"a3","k":220,"v":0.10344},{"s":"a3","k":480,"v":0.10303},{"s":"a3","k":740,"v":0.10262},{"s":"a3","k":1000,"v":0.10293},{"s":"a3","k":1260,"v":0.10324},{"s":"a3","k":1520,"v":0.10344},{"s":"a3","k":1770,"v":0.10386},{"s":"a3","k":2030,"v":0.10386},{"s":"a3","k":2290,"v":0.10406},{"s":"a3","k":2550,"v":0.10365},{"s":"a3","k":2810,"v":0.10344},{"s":"a3","k":3070,"v":0.10334},{"s":"a3","k":3330,"v":0.10344},{"s":"a3","k":3580,"v":0.10365},{"s":"a3","k":3840,"v":0.10386},{"s":"a3","k":4100,"v":0.10375},{"s":"a3","k":4360,"v":0.10365},{"s":"a3","k":4620,"v":0.10344},{"s":"a3","k":4880,"v":0.10303},{"s":"a3","k":5140,"v":0.10324},{"s":"a3","k":5400,"v":0.10344},{"s":"a3","k":5650,"v":0.10365},{"s":"a3","k":5910,"v":0.10375},{"s":"a3","k":6170,"v":0.10365},{"s":"a3","k":6430,"v":0.10355},{"s":"a3","k":6690,"v":0.10344},{"s":"a3","k":6950,"v":0.10334},{"s":"a3","k":7210,"v":0.10324},{"s":"a3","k":7460,"v":0.10334},{"s":"a3","k":7720,"v":0.10324},{"s":"a3","k":7980,"v":0.10314},{"s":"a3","k":8240,"v":0.10303},{"s":"a3","k":8500,"v":0.10283},{"s":"a3","k":8760,"v":0.10262},{"s":"a3","k":9020,"v":0.10231},{"s":"a3","k":9280,"v":0.10221},{"s":"a3","k":9530,"v":0.10231},{"s":"a3","k":9790,"v":0.10241},{"s":"a3","k":10050,"v":0.10252},{"s":"a3","k":10310,"v":0.10262},{"s":"a3","k":10570,"v":0.10283},{"s":"a3","k":10830,"v":0.10303},{"s":"a3","k":11090,"v":0.10303},{"s":"a3","k":11340,"v":0.10293},{"s":"a3","k":11600,"v":0.10283},{"s":"a3","k":11860,"v":0.10272},{"s":"a3","k":12120,"v":0.10283},{"s":"a3","k":12380,"v":0.10272},{"s":"a3","k":12660,"v":0.10262},{"s":"a3","k":13000,"v":0.10272},{"s":"a3","k":13350,"v":0.10241},{"s":"a3","k":13690,"v":0.10221},{"s":"a3","k":14030,"v":0.102},{"s":"a3","k":14380,"v":0.10179},{"s":"a3","k":14730,"v":0.102},{"s":"a3","k":15070,"v":0.10221},{"s":"a3","k":15420,"v":0.10231},{"s":"a3","k":15760,"v":0.10231},{"s":"a3","k":16100,"v":0.10221},{"s":"a3","k":16450,"v":0.102},{"s":"a3","k":16800,"v":0.10179},{"s":"a3","k":17140,"v":0.10179},{"s":"a3","k":17480,"v":0.10221},{"s":"a3","k":17830,"v":0.10252},{"s":"a3","k":18170,"v":0.10241},{"s":"a3","k":18520,"v":0.10241},{"s":"a3","k":18870,"v":0.10252},{"s":"a3","k":19210,"v":0.10231},{"s":"a3","k":19550,"v":0.102},{"s":"a3","k":19900,"v":0.1019},{"s":"a3","k":20240,"v":0.10179},{"s":"a3","k":20590,"v":0.10179},{"s":"a3","k":20930,"v":0.10179},{"s":"a3","k":21280,"v":0.10169},{"s":"a3","k":21710,"v":0.10138},{"s":"a3","k":22050,"v":0.10159},{"s":"a3","k":22400,"v":0.10169},{"s":"a3","k":22750,"v":0.10159},{"s":"a3","k":23090,"v":0.10148},{"s":"a3","k":23430,"v":0.10148},{"s":"a3","k":23780,"v":0.10148},{"s":"a3","k":24120,"v":0.10148},{"s":"a3","k":24470,"v":0.10159},{"s":"a3","k":24810,"v":0.10169},{"s":"a3","k":25160,"v":0.10159},{"s":"a3","k":25420,"v":0.10097},{"s":"a3","k":25760,"v":0.10087},{"s":"a3","k":26110,"v":0.10077},{"s":"a3","k":26450,"v":0.10066},{"s":"a3","k":26800,"v":0.10077},{"s":"a3","k":27140,"v":0.10097},{"s":"a3","k":27480,"v":0.10077},{"s":"a3","k":27830,"v":0.10056},{"s":"a3","k":28180,"v":0.10056},{"s":"a3","k":28520,"v":0.10056},{"s":"a3","k":28870,"v":0.10066},{"s":"a3","k":29210,"v":0.10077},{"s":"a3","k":29550,"v":0.10097},{"s":"a3","k":29900,"v":0.10097},{"s":"a3","k":30250,"v":0.10087},{"s":"a3","k":30590,"v":0.10066},{"s":"a3","k":30930,"v":0.10056},{"s":"a3","k":31280,"v":0.10056},{"s":"a3","k":31620,"v":0.10066},{"s":"a3","k":31970,"v":0.10056},{"s":"a3","k":32320,"v":0.10035},{"s":"a3","k":32660,"v":0.10015},{"s":"a3","k":33000,"v":0.09994},{"s":"a3","k":33350,"v":0.09973},{"s":"a3","k":33690,"v":0.09953},{"s":"a3","k":34040,"v":0.09942},{"s":"a3","k":34380,"v":0.09922},{"s":"a3","k":34730,"v":0.09922},{"s":"a3","k":35070,"v":0.09942},{"s":"a3","k":35420,"v":0.09932},{"s":"a3","k":35760,"v":0.09932},{"s":"a3","k":36110,"v":0.09901},{"s":"a3","k":36450,"v":0.09911},{"s":"a3","k":36800,"v":0.09932},{"s":"a3","k":37140,"v":0.09942},{"s":"a3","k":37660,"v":0.09942},{"s":"a3","k":38180,"v":0.09953},{"s":"a3","k":38690,"v":0.09953},{"s":"a3","k":39210,"v":0.09953},{"s":"a3","k":39730,"v":0.09942},{"s":"a3","k":40250,"v":0.09922},{"s":"a3","k":40760,"v":0.09922},{"s":"a3","k":41280,"v":0.09932},{"s":"a3","k":41800,"v":0.09901},{"s":"a3","k":42320,"v":0.09881},{"s":"a3","k":42830,"v":0.0986},{"s":"a3","k":43350,"v":0.0987},{"s":"a3","k":43870,"v":0.09881},{"s":"a3","k":44380,"v":0.0986},{"s":"a3","k":44900,"v":0.0985},{"s":"a3","k":45420,"v":0.0985},{"s":"a3","k":45940,"v":0.09839},{"s":"a3","k":46450,"v":0.09819},{"s":"a3","k":46970,"v":0.09819},{"s":"a3","k":47490,"v":0.09829},{"s":"a3","k":48010,"v":0.09839},{"s":"a3","k":48520,"v":0.0987},{"s":"a3","k":49040,"v":0.09891},{"s":"a3","k":49390,"v":0.09901},{"s":"a3","k":49730,"v":0.09891},{"s":"a3","k":50000,"v":0.0986}
    ]
  },
  "layer": [
    {
      "data": {"values": [{"start": 0, "end": 50000}]},
      "mark": {"type": "rule", "color": "#262626", "strokeWidth": 1},
      "encoding": {
        "x": {"field": "start", "type": "quantitative", "scale": {"domain": [0, 50000], "nice": false, "zero": false}, "axis": null},
        "x2": {"field": "end"},
        "y": {"datum": 0.08, "type": "quantitative"}
      }
    },
    {
      "data": {"name": "xticks"},
      "mark": {"type": "rule", "color": "#262626", "strokeWidth": 1},
      "encoding": {
        "x": {"field": "k", "type": "quantitative"},
        "y": {"datum": 0.08, "type": "quantitative"},
        "y2": {"datum": 0.080619}
      }
    },
    {
      "data": {"name": "xticks"},
      "transform": [{"filter": "datum.k < 50000"}],
      "mark": {"type": "text", "font": "Liberation Sans", "fontSize": 21, "color": "#262626", "align": "center", "baseline": "alphabetic", "dy": 32},
      "encoding": {
        "x": {"field": "k", "type": "quantitative"},
        "y": {"datum": 0.08, "type": "quantitative"},
        "text": {"field": "t"}
      }
    },
    {
      "data": {"name": "xticks"},
      "transform": [{"filter": "datum.k >= 50000"}],
      "mark": {"type": "text", "font": "Liberation Sans", "fontSize": 21, "color": "#262626", "align": "right", "baseline": "alphabetic", "dx": 2, "dy": 32},
      "encoding": {
        "x": {"field": "k", "type": "quantitative"},
        "y": {"datum": 0.08, "type": "quantitative"},
        "text": {"field": "t"}
      }
    },
    {
      "data": {"values": [{"note": "Time step(k)"}]},
      "mark": {"type": "text", "font": "Liberation Serif", "fontSize": 28, "color": "#262626", "align": "center", "baseline": "alphabetic", "dy": 51},
      "encoding": {
        "x": {"datum": 25000, "type": "quantitative"},
        "y": {"datum": 0.08, "type": "quantitative"},
        "text": {"field": "note"}
      }
    },
    {
      "data": {"name": "yticks"},
      "mark": {"type": "rule", "color": "#262626", "strokeWidth": 1},
      "encoding": {
        "y": {
          "field": "v", "type": "quantitative",
          "scale": {"domain": [0.08, 0.13], "nice": false, "zero": false},
          "axis": {
            "values": [0.08, 0.085, 0.09, 0.095, 0.1, 0.105, 0.11, 0.115, 0.12, 0.125, 0.13],
            "format": ".3~f",
            "labelPadding": 18,
            "title": "Degree Cooperation Probability",
            "titleFontSize": 29,
            "titleAngle": 270,
            "titleX": -92,
            "titleY": 407,
            "titleAlign": "center",
            "titleBaseline": "alphabetic"
          }
        },
        "x": {"datum": 0, "type": "quantitative"},
        "x2": {"datum": 517}
      }
    },
    {
      "data": {"name": "traces"},
      "transform": [
        {"filter": {"field": "s", "oneOf": ["t1", "t2", "t3"]}},
        {"lookup": "s", "from": {"data": {"name": "names"}, "key": "s", "fields": ["label"]}}
      ],
      "mark": {"type": "line", "strokeWidth": 3.5, "strokeJoin": "round"},
      "encoding": {
        "x": {"field": "k", "type": "quantitative"},
        "y": {"field": "v", "type": "quantitative"},
        "color": {
          "field": "label", "type": "nominal",
          "scale": {
            "domain": ["True cooperation state, d=1", "True cooperation state, d=2", "True cooperation state, d=3", "Mean field cooperation state, d=1", "Mean field cooperation state, d=2", "Mean field cooperation state, d=3", "True cooperation state (averaged), d=1", "True cooperation state (averaged), d=2", "True cooperation state (averaged), d=3"],
            "range": ["#0072BD", "#D95319", "#EDB120", "#7E2F8E", "#77AC30", "#4DBEEE", "#A2142F", "#0072BD", "#D95319"]
          },
          "legend": {
            "title": null,
            "encode": {"symbols": {"update": {"strokeWidth": {"signal": "test(/^True cooperation state,/, datum.value) ? 3.5 : 2"}}}}
          }
        },
        "strokeDash": {
          "field": "label", "type": "nominal",
          "scale": {
            "domain": ["True cooperation state, d=1", "True cooperation state, d=2", "True cooperation state, d=3", "Mean field cooperation state, d=1", "Mean field cooperation state, d=2", "Mean field cooperation state, d=3", "True cooperation state (averaged), d=1", "True cooperation state (averaged), d=2", "True cooperation state (averaged), d=3"],
            "range": [[1, 0], [1, 0], [1, 0], [16, 11], [16, 11], [16, 11], [9, 5], [9, 5], [9, 5]]
          },
          "legend": {"title": null}
        }
      }
    },
    {
      "data": {"name": "traces"},
      "transform": [
        {"filter": {"field": "s", "oneOf": ["m1", "m2", "m3"]}},
        {"lookup": "s", "from": {"data": {"name": "names"}, "key": "s", "fields": ["label"]}}
      ],
      "mark": {"type": "line", "strokeWidth": 2, "interpolate": "monotone"},
      "encoding": {
        "x": {"field": "k", "type": "quantitative"},
        "y": {"field": "v", "type": "quantitative"},
        "color": {"field": "label", "type": "nominal"},
        "strokeDash": {"field": "label", "type": "nominal"}
      }
    },
    {
      "data": {"name": "traces"},
      "transform": [
        {"filter": {"field": "s", "oneOf": ["a1", "a2", "a3"]}},
        {"lookup": "s", "from": {"data": {"name": "names"}, "key": "s", "fields": ["label"]}}
      ],
      "mark": {"type": "line", "strokeWidth": 2, "strokeJoin": "round"},
      "encoding": {
        "x": {"field": "k", "type": "quantitative"},
        "y": {"field": "v", "type": "quantitative"},
        "color": {"field": "label", "type": "nominal"},
        "strokeDash": {"field": "label", "type": "nominal"}
      }
    },
    {
      "data": {"values": [{"note": "×10"}]},
      "mark": {"type": "text", "font": "Liberation Sans", "fontSize": 20, "color": "#262626", "align": "right", "baseline": "alphabetic", "dx": -18, "dy": 68},
      "encoding": {
        "x": {"datum": 50000, "type": "quantitative"},
        "y": {"datum": 0.08, "type": "quantitative"},
        "text": {"field": "note"}
      }
    },
    {
      "data": {"values": [{"note": "4"}]},
      "mark": {"type": "text", "font": "Liberation Sans", "fontSize": 17, "color": "#262626", "align": "right", "baseline": "alphabetic", "dx": -1, "dy": 58},
      "encoding": {
        "x": {"datum": 50000, "type": "quantitative"},
        "y": {"datum": 0.08, "type": "quantitative"},
        "text": {"field": "note"}
      }
    }
  ]
}
